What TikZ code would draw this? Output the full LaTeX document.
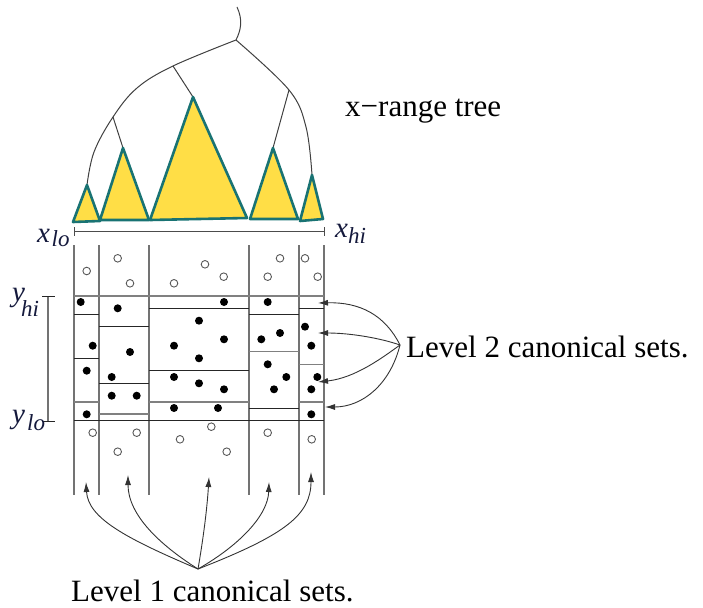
\documentclass[tikz,border=0pt]{standalone}
\usepackage{fontspec}
\setmainfont{Liberation Serif}
\usetikzlibrary{arrows.meta}
\definecolor{triyel}{RGB}{255,222,70}
\definecolor{tritea}{RGB}{25,115,115}
\definecolor{lblcol}{RGB}{20,25,60}
\begin{document}
\begin{tikzpicture}[x=1pt,y=-1pt,
  treeline/.style={draw=black!75,line width=1pt},
  tri/.style={fill=triyel,draw=tritea,line width=2.6pt,line join=round},
  gridv/.style={draw=black!55,line width=1.3pt},
  gridg/.style={draw=black!50,line width=1.3pt},
  gridk/.style={draw=black!85,line width=0.9pt},
  fdot/.style={fill=black,draw=none},
  odot/.style={draw=black!65,line width=0.9pt,fill=white},
  lbl/.style={inner sep=0pt,anchor=base west,font=\fontsize{31}{31}\selectfont},
  mlab/.style={inner sep=0pt,anchor=base west,text=lblcol,font=\fontsize{29}{29}\selectfont\itshape},
  slab/.style={inner sep=0pt,anchor=base west,text=lblcol,font=\fontsize{23}{23}\selectfont\itshape},
  arr/.style={draw=black!80,line width=0.9pt,-{Latex[length=10pt,width=6pt]}}
]
\useasboundingbox (0,0) rectangle (703,607);

% ---- x-range tree ----
\draw[treeline] (237,7) .. controls (243,20) and (241,30) .. (236,40);
\draw[treeline] plot[smooth,tension=0.6] coordinates {(236,40) (173,66) (137,88) (113,117) (94,152) (87,185)};
\draw[treeline] plot[smooth,tension=0.6] coordinates {(236,40) (289,90) (306,127) (312,175)};
\draw[treeline] (173,66) -- (193,97);
\draw[treeline] (113,117) -- (123,148);
\draw[treeline] (289,90) -- (273,148);

\filldraw[tri] (87,185) -- (100,221) -- (73,222) -- cycle;
\filldraw[tri] (123,148) -- (149,220) -- (100,220) -- cycle;
\filldraw[tri] (193,97) -- (247,218) -- (150,220) -- cycle;
\filldraw[tri] (273,148) -- (298,219) -- (250,219) -- cycle;
\filldraw[tri] (312,175) -- (323,219) -- (300,221) -- cycle;

\node[lbl] (xrt) at (345,117) {x−range tree};

% ---- x range bar ----
\draw[draw=black!70,line width=0.9pt] (74,231) -- (324,231);
\draw[draw=black!70,line width=0.9pt] (74,227) -- (74,236);
\draw[draw=black!70,line width=0.9pt] (324,227) -- (324,236);
\node[mlab] (xlo) at (37,242) {x};
\node[slab] (xlosub) at (51.5,246) {lo};
\node[mlab] (xhi) at (335,237) {x};
\node[slab] (xhisub) at (348,243) {hi};

% ---- y range bar ----
\draw[draw=black!55,line width=1.2pt] (48,296) -- (48,421);
\draw[gridk] (42,296) -- (55,296);
\draw[gridk] (42,421) -- (55,421);
\node[mlab] (yhi) at (12,301) {y};
\node[slab] (yhisub) at (21,316.5) {hi};
\node[mlab] (ylo) at (12,423) {y};
\node[slab] (ylosub) at (27,430.5) {lo};

% ---- grid ----
\foreach \xx in {74,99,149,249,299,324} \draw[gridv] (\xx,245) -- (\xx,495);
\draw[gridg] (74,296) -- (324,296);
\draw[gridk] (74,420) -- (324,420);
% column A
\draw[gridk] (74,314) -- (99,314);
\draw[gridk] (74,358) -- (99,358);
\draw[gridg] (74,402) -- (99,402);
% column B
\draw[gridk] (99,326) -- (149,326);
\draw[gridk] (99,383) -- (149,383);
\draw[gridg] (99,414) -- (149,414);
% column C
\draw[gridk] (149,308) -- (249,308);
\draw[gridk] (149,370) -- (249,370);
\draw[gridg] (149,402) -- (249,402);
% column D
\draw[gridk] (249,314) -- (299,314);
\draw[gridg] (249,351.5) -- (299,351.5);
\draw[gridk] (249,408) -- (299,408);
% column E
\draw[gridk] (299,308) -- (324,308);
\draw[gridg] (299,364.5) -- (324,364.5);
\draw[gridg] (299,402) -- (324,402);

% open points
\foreach \p in {(86.7,271),(117.7,258.3),(130,283.3),(174,283.3),(205,264.3),(223.7,276.7),(267.7,276.7),(280,258.3),(305,258.3),(317.7,276.7),
(92.7,432.7),(136.7,432.7),(117.7,451.7),(180,439.3),(211.3,426.7),(226.7,451.7),(267.7,432.7),(311.7,439.3)}
  \draw[odot] \p circle[radius=3.8pt];
% filled points
\foreach \p in {(80.7,302),(92.7,345.7),(86.7,370.7),(86.7,414.3),
(117.7,308.3),(130,352),(111.7,377),(111.7,395.7),(136.7,395.7),
(224,302),(199,320.7),(224,339.3),(174,345.7),(199,358.3),(174,377),(199,383.3),(224,389.3),(174,408),(218,408),
(267.7,302),(280,333),(261.3,339.3),(267.7,364.3),(286.3,377),(274,389.3),
(305,326.7),(311.3,345.7),(317.3,377),(311.3,389.3),(311.3,414.3)}
  \fill[fdot] \p circle[radius=4pt];

% ---- level 2 ----
\node[lbl] (lvltwo) at (406,357) {Level 2 canonical sets.};
\coordinate (l2src) at (400,345);
\coordinate (t21) at (318,303);
\coordinate (t22) at (318,333);
\coordinate (t23) at (318,382);
\coordinate (t24) at (325,407);
\draw[arr] (l2src) .. controls (385,315) and (360,302) .. (t21);
\draw[arr] (l2src) .. controls (380,338) and (350,333) .. (t22);
\draw[arr] (l2src) .. controls (382,358) and (355,378) .. (t23);
\draw[arr] (l2src) .. controls (390,385) and (362,407) .. (t24);

% ---- level 1 ----
\node[lbl] (lvlone) at (71,601.5) {Level 1 canonical sets.};
\coordinate (l1src) at (198,569);
\coordinate (t11) at (86,482);
\coordinate (t12) at (128,475);
\coordinate (t13) at (209,477);
\coordinate (t14) at (269,482);
\coordinate (t15) at (311,472);
\draw[arr] (l1src) .. controls (125,538) and (88,518) .. (t11);
\draw[arr] (l1src) .. controls (160,545) and (128,515) .. (t12);
\draw[arr] (l1src) .. controls (203,540) and (207,510) .. (t13);
\draw[arr] (l1src) .. controls (240,545) and (268,515) .. (t14);
\draw[arr] (l1src) .. controls (285,535) and (311,515) .. (t15);
\end{tikzpicture}
\end{document}
